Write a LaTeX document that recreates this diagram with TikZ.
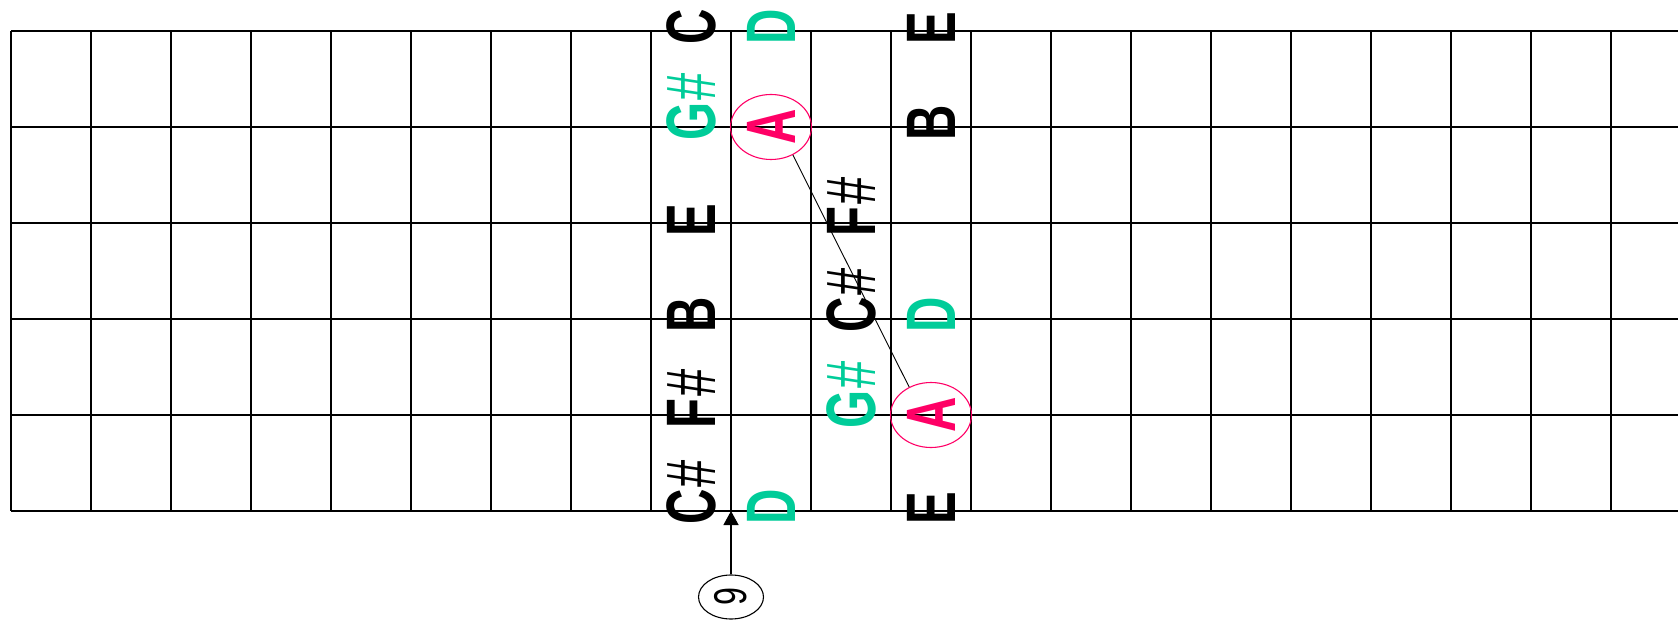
\documentclass[tikz,border=0pt]{standalone}
\usepackage{fontspec}
\usepackage{tikz}
\usetikzlibrary{positioning,arrows.meta,shapes.geometric}
\newfontfamily\notefont{Liberation Sans}[FakeStretch=0.7]
\newcommand\notesize{\fontsize{70pt}{84pt}\selectfont}
\newcommand\sh{\kern2pt{\mdseries\#}}
\definecolor{fretgreen}{HTML}{00CC99}
\definecolor{fretred}{HTML}{FF0066}
\tikzset{
  fretline/.style={line width=1.3pt},
  note/.style={rotate=90, anchor=west, inner sep=0pt, font=\notefont\notesize\bfseries},
  scalenote/.style={note, text=fretgreen},
  rootnote/.style={rotate=90, ellipse, draw=fretred, line width=1.1pt, text=fretred,
    inner sep=0pt, minimum width=65pt, minimum height=81pt, font=\notefont\notesize\bfseries},
  fretmark/.style={rotate=90, ellipse, draw, line width=1.1pt, inner sep=0pt,
    minimum width=44pt, minimum height=65pt, font=\notefont\fontsize{46pt}{55pt}\selectfont}
}

\begin{document}
\begin{tikzpicture}[x=1pt, y=-1pt]
    \useasboundingbox (0,0) rectangle (1678,620);
    \foreach \y in {31,127,...,511}
      \draw[fretline] (11,\y) -- (1678,\y);
    \foreach \x in {11,91,...,1611}
      \draw[fretline] (\x,31) -- (\x,511);
    \node[note] (s1c1) at (691,45) {C};
    \node[scalenote] (s1c2) at (771,45) {D};
    \node[note] (s1c4) at (931,45) {E};
    \node[scalenote] (s2c1) at (691,141) {G\sh};
    \node[rootnote] (root1) at (771,127) {A};
    \node[note] (s2c4) at (931,141) {B};
    \node[note] (s3c1) at (691,237) {E};
    \node[note] (s3c3) at (851,237) {F\sh};
    \node[note] (s4c1) at (691,333) {B};
    \node[note] (s4c3) at (851,333) {C\sh};
    \node[scalenote] (s4c4) at (931,333) {D};
    \node[note] (s5c1) at (691,429) {F\sh};
    \node[scalenote] (s5c3) at (851,429) {G\sh};
    \node[rootnote] (root2) at (931,415) {A};
    \node[note] (s6c1) at (691,525) {C\sh};
    \node[scalenote] (s6c2) at (771,525) {D};
    \node[note] (s6c4) at (931,525) {E};
    \draw[line width=0.9pt] (root1.-142) -- (root2.38);
    \node[fretmark] (fretno) at (731,597) {9};
    \coordinate (fret9) at (731,511);
    \draw[line width=1.3pt, -{Triangle[width=15pt,length=14pt]}] (fretno) -- (fret9);
  \end{tikzpicture}
\end{document}
